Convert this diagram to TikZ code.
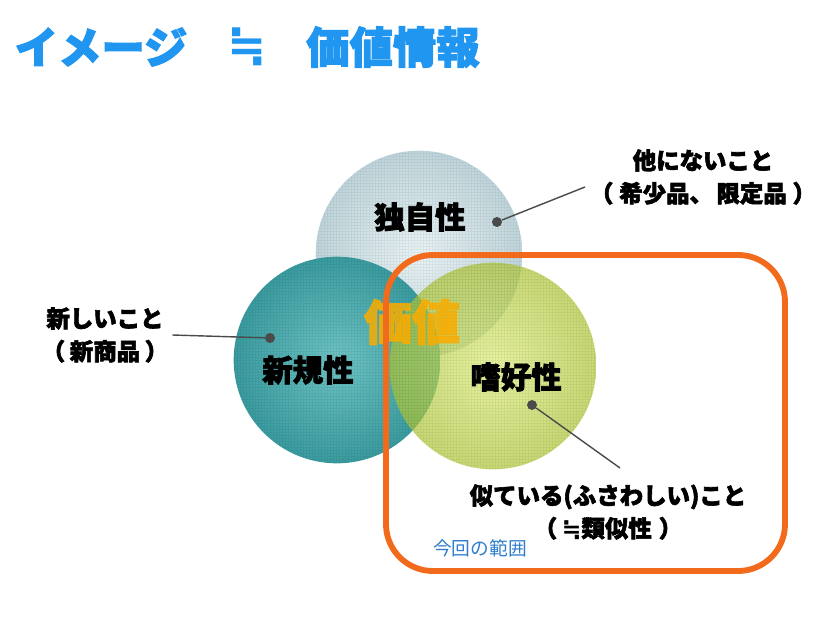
\documentclass[tikz,border=0pt]{standalone}
\usepackage{fontspec}
\setmainfont{Noto Sans CJK JP}[BoldFeatures = {FakeBold = 2.5}]
\newfontfamily\symfont{DejaVu Sans}[BoldFont = DejaVu Sans Bold]
\usetikzlibrary{positioning}

\definecolor{titleblue}{HTML}{2196F0}
\definecolor{rangeblue}{HTML}{2E7CCC}
\definecolor{rangeorange}{HTML}{F26A1B}
\definecolor{valueorange}{HTML}{F9AC00}
\definecolor{dotgray}{HTML}{4A4A4A}

\begin{document}
\begin{tikzpicture}[x = 0.03cm, y = -0.03cm,
		ball/.style = {circle, minimum size = 6.2cm, inner sep = 0pt, shading = radial},
		mesh/.style = {black, opacity = 0.06, line width = 0.3pt, step = 0.09cm},
		balltext/.style = {font = \fontsize{26}{30}\selectfont\bfseries},
		note/.style = {font = \fontsize{20}{28}\selectfont\bfseries, align = center},
		dot/.style = {circle, fill = dotgray, minimum size = 0.3cm, inner sep = 0pt},
		pointer/.style = {dotgray, line width = 1.2pt}]
	\useasboundingbox (0, 0) rectangle (826, 619);
	% title
	\node[titleblue, font = \fontsize{37}{40}\selectfont\bfseries] (image) at (101, 47) {イメージ};
	\node[titleblue, font = \fontsize{40}{40}\selectfont\symfont\bfseries] (approx) at (247, 47) {≒};
	\node[titleblue, font = \fontsize{37}{40}\selectfont\bfseries] (info) at (393, 47) {価値情報};
	% circles
	\node[ball, inner color = {rgb,255:red,234;green,244;blue,246}, outer color = {rgb,255:red,192;green,214;blue,220}] (unique) at (419, 254) {};
	\begin{scope}
		\clip (unique.center) circle (103);
		\draw[mesh] (unique.west |- unique.north) grid (unique.east |- unique.south);
	\end{scope}
	\node[ball, inner color = {rgb,255:red,110;green,196;blue,196}, outer color = {rgb,255:red,58;green,156;blue,160}] (novel) at (337, 360) {};
	\begin{scope}
		\clip (novel.center) circle (103);
		\draw[mesh] (novel.west |- novel.north) grid (novel.east |- novel.south);
	\end{scope}
	\node[ball, fill opacity = 0.7, inner color = {rgb,255:red,222;green,238;blue,120}, outer color = {rgb,255:red,176;green,200;blue,56}] (taste) at (493, 366) {};
	\begin{scope}
		\clip (taste.center) circle (103);
		\draw[mesh] (taste.west |- taste.north) grid (taste.east |- taste.south);
	\end{scope}
	\node[valueorange, opacity = 0.85, font = \fontsize{41}{44}\selectfont\bfseries] (value) at (412, 322) {価値};
	\node[balltext] (uniquetext) at (420, 217) {独自性};
	\node[balltext] (noveltext) at (308, 370) {新規性};
	\node[balltext] (tastetext) at (516, 377) {嗜好性};
	% range
	\draw[rangeorange, line width = 5pt, rounded corners = 40] (386, 255) rectangle (785, 571);
	\node[rangeblue, font = \fontsize{16}{18}\selectfont] (range) at (480, 548) {今回の範囲};
	% notes
	\node[note] (rare) at (703, 177) {他にないこと\\（\hspace{5pt}希少品、\hspace{3pt}限定品\hspace{5pt}）};
	\node[note] (new) at (105, 335) {新しいこと\\（\hspace{4pt}新商品\hspace{4pt}）};
	\node[note] (similar) at (608, 512) {似ている(ふさわしい)こと\\（\hspace{4pt}{\symfont\bfseries ≒}類似性\hspace{6pt}）};
	\coordinate (raretip) at (585, 187);
	\coordinate (similartip) at (620, 468);
	% pointers
	\node[dot] (uniquedot) at (497, 222) {};
	\node[dot] (noveldot) at (270, 338) {};
	\node[dot] (tastedot) at (532, 405) {};
	\draw[pointer] (uniquedot) -- (raretip);
	\draw[pointer] (noveldot) -- (new.east);
	\draw[pointer] (tastedot) -- (similartip);
\end{tikzpicture}
\end{document}
